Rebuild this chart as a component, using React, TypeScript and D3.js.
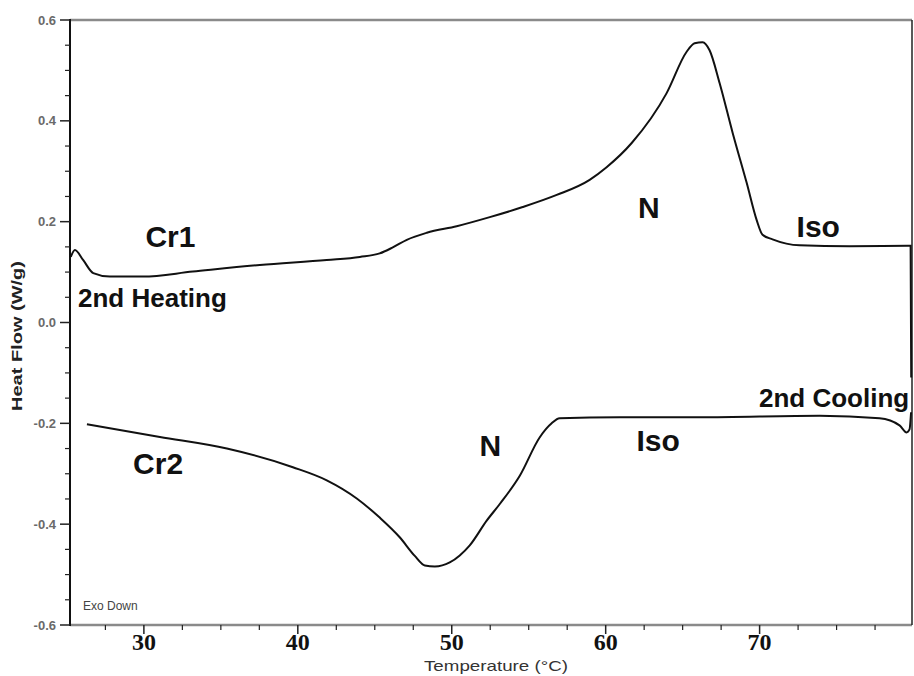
import React from "react";
import * as d3 from "d3";

const heatT = [25.25, 25.52, 26.05, 26.71, 27.79, 29.94, 33.18, 37.53, 41.88, 44.03, 45.32, 46.17, 47.08, 48.38, 50.32, 52.47, 54.61, 56.82, 58.96, 60.06, 61.69, 63.96, 65.26, 65.78, 66.3, 66.75, 67.4, 68.25, 69.16, 69.81, 70.19, 70.84, 72.6, 75.84, 79.81, 79.85];
const heatV = [0.13, 0.144, 0.124, 0.098, 0.091, 0.091, 0.101, 0.114, 0.124, 0.13, 0.137, 0.149, 0.164, 0.178, 0.191, 0.209, 0.229, 0.253, 0.283, 0.308, 0.356, 0.455, 0.537, 0.554, 0.556, 0.54, 0.475, 0.376, 0.277, 0.203, 0.174, 0.165, 0.153, 0.151, 0.152, -0.109];

const coolT = [26.3, 31.04, 35.39, 39.68, 41.88, 43.83, 45.32, 46.62, 47.6, 48.25, 48.9, 49.87, 50.52, 51.17, 52.27, 53.12, 54.42, 55.71, 56.49, 57.01, 60.9, 66.1, 73.9, 77.79, 79.09, 79.55, 79.74, 79.84];
const coolV = [-0.202, -0.227, -0.25, -0.287, -0.313, -0.349, -0.387, -0.426, -0.463, -0.482, -0.484, -0.476, -0.462, -0.442, -0.393, -0.36, -0.304, -0.228, -0.2, -0.19, -0.188, -0.188, -0.185, -0.19, -0.204, -0.218, -0.212, -0.178];

const xTickValues = [30, 40, 50, 60, 70];
const xTickLabels = ["30", "40", "50", "60", "70"];
const yTickValues = [0.6, 0.4, 0.2, 0.0, -0.2, -0.4, -0.6];
const yTickLabels = ["0.6", "0.4", "0.2", "0.0", "-0.2", "-0.4", "-0.6"];

const phaseLabels = ["Cr1", "N", "Iso", "Cr2", "N", "Iso"];
const phaseT = [30.1, 62.1, 72.4, 29.3, 51.8, 62.0];
const phaseV = [0.15, 0.207, 0.17, -0.30, -0.265, -0.255];

const xDomain = [25.2, 79.9];
const yDomain = [-0.6, 0.6];

export default function App() {
  const W = 914, H = 676;
  const left = 70, right = 912, top = 20, bottom = 625;
  const x = d3.scaleLinear().domain(xDomain).range([left, right]);
  const y = d3.scaleLinear().domain(yDomain).range([bottom, top]);

  const line = d3
    .line<[number, number]>()
    .x((d) => x(d[0]))
    .y((d) => y(d[1]))
    .curve(d3.curveMonotoneX);

  const heat = heatT.map((t, i) => [t, heatV[i]] as [number, number]);
  const cool = coolT.map((t, i) => [t, coolV[i]] as [number, number]);

  const xMinor = d3.range(27.5, 79, 2.5).filter((v) => Math.abs(v % 10) > 0.01);
  const yMinor = d3.range(-0.6, 0.6001, 0.05).filter(
    (v) => Math.abs(Math.round(v * 100) % 20) > 0.5
  );

  const sans = "'Liberation Sans', Arial, Helvetica, sans-serif";
  const serif = "'Liberation Serif', 'Times New Roman', serif";

  return (
    <svg
      width={W}
      height={H}
      style={{ position: "absolute", left: 0, top: 0, background: "#fff" }}
    >
      <rect x={0} y={0} width={W} height={H} fill="#fff" />
      {/* frame */}
      <line x1={left} x2={right} y1={top} y2={top} stroke="#8a8a8a" strokeWidth={2.5} />
      <line x1={left} x2={right} y1={bottom} y2={bottom} stroke="#8a8a8a" strokeWidth={2.5} />
      <line x1={right} x2={right} y1={top} y2={bottom} stroke="#222" strokeWidth={1.5} />
      <line x1={left} x2={left} y1={top - 1} y2={bottom + 1} stroke="#111" strokeWidth={2} />

      {/* y ticks */}
      {yTickValues.map((v) => (
        <line key={"ym" + v} x1={left - 10} x2={left} y1={y(v)} y2={y(v)} stroke="#222" strokeWidth={1.5} />
      ))}
      {yMinor.map((v) => (
        <line key={"yn" + v} x1={left - 5} x2={left} y1={y(v)} y2={y(v)} stroke="#222" strokeWidth={1.2} />
      ))}
      {yTickValues.map((v, i) => (
        <text
          key={"yl" + v}
          x={56}
          y={y(v)}
          dy="0.35em"
          textAnchor="end"
          fontFamily={sans}
          fontSize={13}
          fontWeight="bold"
          fill="#6a6a6a"
        >
          {yTickLabels[i]}
        </text>
      ))}

      {/* x ticks */}
      {xTickValues.map((v) => (
        <line key={"xm" + v} x1={x(v)} x2={x(v)} y1={bottom} y2={bottom + 9} stroke="#222" strokeWidth={1.5} />
      ))}
      {xMinor.map((v) => (
        <line key={"xn" + v} x1={x(v)} x2={x(v)} y1={bottom} y2={bottom + 5} stroke="#222" strokeWidth={1.2} />
      ))}
      {xTickValues.map((v, i) => (
        <text
          key={"xl" + v}
          x={x(v)}
          y={650}
          textAnchor="middle"
          fontFamily={serif}
          fontSize={24}
          fontWeight="bold"
          fill="#111"
        >
          {xTickLabels[i]}
        </text>
      ))}

      {/* axis titles */}
      <text
        x={(left + right) / 2 + 5}
        y={671}
        textAnchor="middle"
        fontFamily={sans}
        fontSize={15}
        fill="#333"
        textLength={144}
        lengthAdjust="spacingAndGlyphs"
      >
        Temperature (°C)
      </text>
      <text
        transform="translate(22,336) rotate(-90)"
        textAnchor="middle"
        fontFamily={sans}
        fontSize={14}
        fontWeight="bold"
        fill="#222"
        textLength={150}
        lengthAdjust="spacingAndGlyphs"
      >
        Heat Flow (W/g)
      </text>

      <text x={83} y={610} fontFamily={sans} fontSize={12} fill="#444">
        Exo Down
      </text>

      {/* curves */}
      <path d={line(heat) || ""} fill="none" stroke="#111" strokeWidth={2} />
      <path d={line(cool) || ""} fill="none" stroke="#111" strokeWidth={2} />

      {/* phase labels */}
      {phaseLabels.map((s, i) => (
        <text
          key={"p" + i}
          x={x(phaseT[i])}
          y={y(phaseV[i])}
          fontFamily={sans}
          fontSize={30}
          fontWeight="bold"
          fill="#111"
        >
          {s}
        </text>
      ))}

      <text x={78} y={307} fontFamily={sans} fontSize={26} fontWeight="bold" fill="#111">
        2nd Heating
      </text>
      <rect x={757} y={384} width={154} height={26} fill="#fff" />
      <text x={759} y={407} fontFamily={sans} fontSize={26} fontWeight="bold" fill="#111">
        2nd Cooling
      </text>
    </svg>
  );
}
